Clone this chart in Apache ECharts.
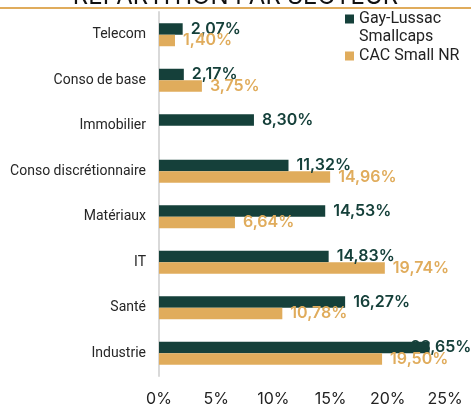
<!DOCTYPE html>
<html>
<head>
<meta charset="utf-8">
<script src="https://cdn.jsdelivr.net/npm/echarts@6/dist/echarts.min.js"></script>
<style>
  html, body { margin: 0; padding: 0; background: #fff; }
  #chart { width: 471px; height: 407px; }
</style>
</head>
<body>
<div id="chart"></div>
<script>
// secteurs, du haut vers le bas
const sectors = ['Telecom', 'Conso de base', 'Immobilier', 'Conso discrétionnaire', 'Matériaux', 'IT', 'Santé', 'Industrie'];
const gayLussac = [2.07, 2.17, 8.30, 11.32, 14.53, 14.83, 16.27, 23.65];
const cacSmall = [1.40, 3.75, null, 14.96, 6.64, 19.74, 10.78, 19.50];
const xTicks = [0, 5, 10, 15, 20, 25];

const GREEN = '#15403a';
const GOLD = '#e0ac5c';
const FONT = 'Inter';

const chart = echarts.init(document.getElementById('chart'));

const fmt = v => v.toFixed(2).replace('.', ',') + '%';

function labelFor(color) {
  return {
    show: true,
    position: 'right',
    distance: 8,
    color: color,
    fontFamily: FONT,
    fontWeight: 600,
    fontSize: 16,
    formatter: p => p.value == null ? '' : fmt(p.value)
  };
}

// la plus grande barre : étiquette tirée vers la gauche (comme dans l'original)
const glData = gayLussac.map((v, i) => i === gayLussac.length - 1
  ? { value: v, label: { offset: [-27, 0] } }
  : v);

// icônes de légende : carré aligné sur la première ligne / sur la ligne unique
const iconTop = 'path://M0,0h0.01M0,4.5h9v9h-9zM0,36h0.01';
const iconMid = 'path://M0,0h0.01M0,13.5h9v9h-9zM0,36h0.01';

chart.setOption({
  animation: false,
  graphic: [
    {
      type: 'text',
      left: 'center',
      top: -15,
      style: {
        text: 'RÉPARTITION PAR SECTEUR',
        fontFamily: FONT,
        fontSize: 24,
        fill: '#111'
      }
    },
    {
      type: 'rect',
      left: 0,
      top: 7,
      shape: { width: 471, height: 2 },
      style: { fill: GOLD }
    }
  ],
  legend: {
    orient: 'vertical',
    left: 345,
    top: 10,
    padding: 0,
    itemGap: -8,
    itemWidth: 9,
    itemHeight: 36,
    textStyle: { fontFamily: 'Roboto', fontSize: 16, lineHeight: 18, color: '#222' },
    data: [
      { name: 'Gay-Lussac\nSmallcaps', icon: iconTop },
      { name: 'CAC Small NR', icon: iconMid }
    ]
  },
  grid: { left: 159, right: 26, top: 12, bottom: 29 },
  xAxis: {
    type: 'value',
    min: xTicks[0],
    max: xTicks[xTicks.length - 1],
    interval: 5,
    axisLine: { show: false },
    axisTick: { show: false },
    splitLine: { show: false },
    axisLabel: {
      margin: 15,
      fontFamily: FONT,
      fontSize: 16,
      color: '#222',
      formatter: v => v + '%'
    }
  },
  yAxis: {
    type: 'category',
    inverse: true,
    data: sectors,
    axisLine: { show: true, lineStyle: { color: '#d9d9d9', width: 2 } },
    axisTick: { show: false },
    axisLabel: { margin: 13, fontFamily: 'Roboto', fontSize: 14, color: '#262626' }
  },
  series: [
    {
      name: 'Gay-Lussac\nSmallcaps',
      type: 'bar',
      data: glData,
      barWidth: 11.5,
      barGap: '0%',
      itemStyle: { color: GREEN },
      label: labelFor(GREEN)
    },
    {
      name: 'CAC Small NR',
      type: 'bar',
      data: cacSmall,
      barWidth: 11.5,
      barGap: '0%',
      itemStyle: { color: GOLD },
      label: labelFor(GOLD)
    }
  ]
});
</script>
</body>
</html>
